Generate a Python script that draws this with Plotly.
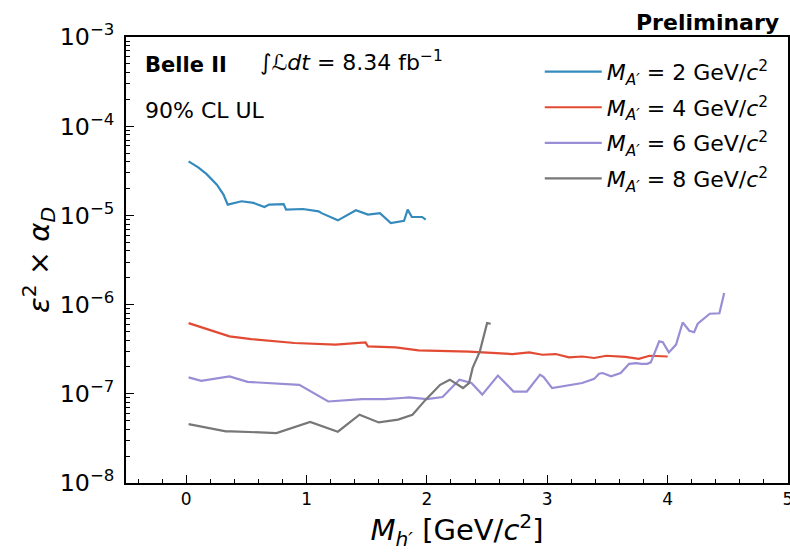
import plotly.graph_objects as go

# M_A' = 2 GeV/c^2
x_m2 = [0.02, 0.10, 0.17, 0.255, 0.31, 0.345, 0.46, 0.56, 0.65, 0.69, 0.81, 0.83, 0.97, 1.10, 1.125, 1.26,
        1.41, 1.51, 1.61, 1.70, 1.81, 1.84, 1.875, 1.96, 1.99]
y_m2 = [4.03e-5, 3.45e-5, 2.90e-5, 2.21e-5, 1.71e-5, 1.32e-5, 1.44e-5, 1.38e-5, 1.24e-5, 1.32e-5, 1.34e-5,
        1.16e-5, 1.18e-5, 1.11e-5, 1.06e-5, 8.8e-6, 1.14e-5, 1.02e-5, 1.06e-5, 8.2e-6, 8.7e-6, 1.16e-5,
        9.6e-6, 9.6e-6, 8.95e-6]

# M_A' = 4 GeV/c^2
x_m4 = [0.02, 0.36, 0.54, 0.90, 1.24, 1.49, 1.51, 1.74, 1.93, 2.35, 2.71, 2.85, 2.96, 3.07, 3.18, 3.29,
        3.39, 3.49, 3.65, 3.76, 3.85, 4.00]
y_m4 = [6.2e-7, 4.40e-7, 4.11e-7, 3.71e-7, 3.55e-7, 3.76e-7, 3.40e-7, 3.31e-7, 3.07e-7, 2.97e-7, 2.79e-7,
        2.91e-7, 2.74e-7, 2.79e-7, 2.56e-7, 2.62e-7, 2.52e-7, 2.67e-7, 2.59e-7, 2.46e-7, 2.67e-7, 2.62e-7]

# M_A' = 6 GeV/c^2
x_m6 = [0.02, 0.125, 0.36, 0.51, 0.94, 1.18, 1.46, 1.65, 1.79, 1.85, 2.0, 2.13, 2.27, 2.37, 2.46, 2.59,
        2.72, 2.83, 2.94, 2.97, 3.04, 3.15, 3.29, 3.39, 3.43, 3.46, 3.53, 3.61, 3.68, 3.74, 3.78, 3.83, 3.86,
        3.93, 3.96, 4.01, 4.07, 4.125, 4.18, 4.22, 4.25, 4.35, 4.42, 4.43, 4.47]
y_m6 = [1.53e-7, 1.40e-7, 1.57e-7, 1.36e-7, 1.26e-7, 8.2e-8, 8.7e-8, 8.7e-8, 8.97e-8, 9.1e-8, 8.7e-8,
        9.2e-8, 1.44e-7, 1.32e-7, 9.8e-8, 1.60e-7, 1.06e-7, 1.06e-7, 1.64e-7, 1.54e-7, 1.16e-7, 1.23e-7,
        1.32e-7, 1.47e-7, 1.68e-7, 1.71e-7, 1.57e-7, 1.71e-7, 2.17e-7, 2.21e-7, 2.17e-7, 2.17e-7, 2.25e-7,
        3.87e-7, 3.78e-7, 2.91e-7, 3.56e-7, 6.31e-7, 5.09e-7, 4.9e-7, 6.1e-7, 7.9e-7, 8.1e-7, 8.0e-7, 1.35e-6]

# M_A' = 8 GeV/c^2
x_m8 = [0.02, 0.33, 0.375, 0.75, 1.03, 1.26, 1.44, 1.60, 1.76, 1.88, 1.99, 2.11, 2.19, 2.30, 2.35, 2.38,
        2.44, 2.49, 2.50, 2.53]
y_m8 = [4.58e-8, 3.79e-8, 3.8e-8, 3.63e-8, 4.83e-8, 3.76e-8, 5.83e-8, 4.78e-8, 5.13e-8, 5.83e-8, 8.6e-8,
        1.26e-7, 1.44e-7, 1.16e-7, 1.32e-7, 1.95e-7, 2.99e-7, 5.7e-7, 6.2e-7, 6.1e-7]

series = [
    ("2", x_m2, y_m2, "#348ABD"),
    ("4", x_m4, y_m4, "#E24A33"),
    ("6", x_m6, y_m6, "#988ED5"),
    ("8", x_m8, y_m8, "#777777"),
]

FONT = "DejaVu Sans"
fig = go.Figure()
for i, (m, xs, ys, col) in enumerate(series):
    fig.add_trace(go.Scatter(
        x=xs, y=ys, mode="lines", line=dict(color=col, width=2.2),
        name=f"<i>M</i><sub><i>A′</i></sub> = {m} GeV/<i>c</i><sup>2</sup>",
        legendgroup=f"g{i}",
    ))

fig.update_layout(
    width=790, height=560,
    margin=dict(l=126, r=2, t=37, b=77),
    plot_bgcolor="white", paper_bgcolor="white",
    font=dict(family=FONT, color="black"),
    showlegend=True,
    legend=dict(x=0.625, y=0.969, xanchor="left", yanchor="top",
                font=dict(size=22, family=FONT), bgcolor="rgba(0,0,0,0)",
                tracegroupgap=4, itemwidth=57),
    xaxis=dict(range=[-0.5, 5.0], showgrid=False, zeroline=False, automargin=False,
               showline=True, linecolor="black", linewidth=1.5, mirror=True,
               ticks="inside", ticklen=8, tickwidth=1, tickcolor="black",
               dtick=1, tick0=0, tickfont=dict(size=17), ticklabeloverflow="allow",
               minor=dict(ticks="inside", ticklen=4, dtick=0.2, tick0=0, tickcolor="black"),
               title=dict(text="<i>M</i><sub><i>h′</i></sub> [GeV/<i>c</i><sup>2</sup>]",
                          font=dict(size=29), standoff=6)),
    yaxis=dict(type="log", range=[-8, -3], showgrid=False, zeroline=False, automargin=False,
               showline=True, linecolor="black", linewidth=1.5, mirror=True,
               ticks="inside", ticklen=8, tickwidth=1, tickcolor="black",
               dtick=1, exponentformat="power", tickfont=dict(size=19), ticklabelstandoff=6,
               minor=dict(ticks="inside", ticklen=4, dtick="D1", tickcolor="black"),
               title=dict(text="<i>ε</i><sup>2</sup> × <i>α</i><sub><i>D</i></sub>",
                          font=dict(size=29), standoff=0)),
)

fig.add_annotation(x=0.026, y=0.937, xref="paper", yref="paper", xanchor="left", yanchor="middle",
                   text="<b>Belle II</b>", showarrow=False, font=dict(size=21, family=FONT))
fig.add_annotation(x=0.2, y=0.946, xref="paper", yref="paper", xanchor="left", yanchor="middle",
                   text="∫<i>ℒdt</i> = 8.34 fb<sup>−1</sup>", showarrow=False, font=dict(size=22, family=FONT))
fig.add_annotation(x=0.026, y=0.836, xref="paper", yref="paper", xanchor="left", yanchor="middle",
                   text="90% CL UL", showarrow=False, font=dict(size=22, family=FONT))
fig.add_annotation(x=0.99, y=1.0, xref="paper", yref="paper", xanchor="right", yanchor="bottom",
                   text="<b>Preliminary</b>", showarrow=False, font=dict(size=22, family=FONT))

fig.write_html("out.html", config={"displayModeBar": False},
               post_script="document.body.style.margin='0';")
